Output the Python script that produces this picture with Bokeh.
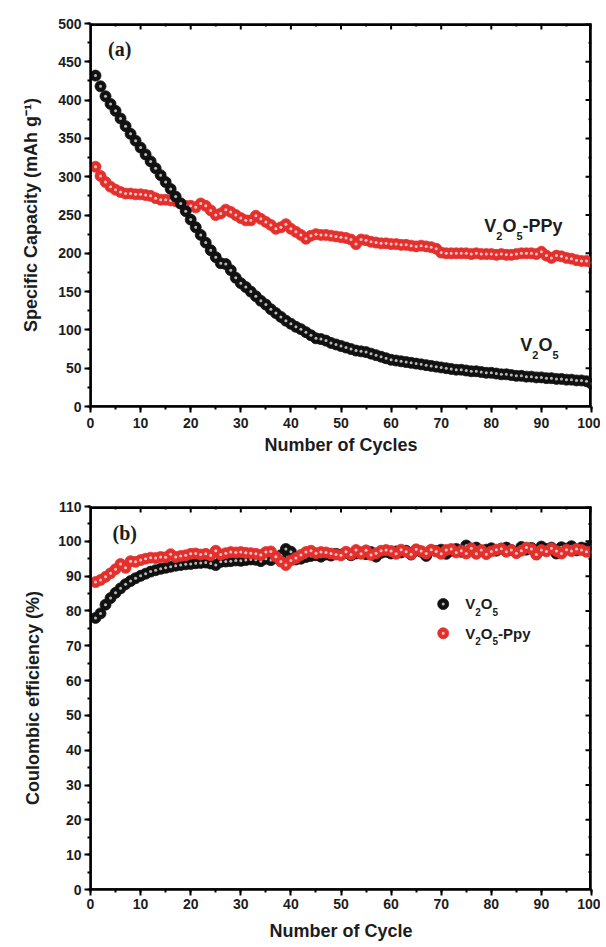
import math
from bokeh.plotting import figure
from bokeh.models import Range1d, SingleIntervalTicker, Label, BoxAnnotation
from bokeh.layouts import column
from bokeh.embed import file_html
from bokeh.resources import INLINE

# ---------------- data ----------------
cycles = list(range(1, 101))

cap_v2o5 = [432, 418, 405, 395, 386, 376, 366, 356, 347, 338,
            329, 320, 311, 302, 293, 284, 274, 265, 255, 244,
            234, 224, 214, 204, 195, 187, 186, 178, 168, 161,
            156, 150, 144, 138, 133, 127, 122, 117, 112, 108,
            104, 101, 97, 93, 89, 88, 86, 83, 81, 79,
            77, 75, 73, 72, 71, 69, 67, 65, 63, 61,
            60, 59, 58, 57, 56, 55, 54, 53, 52, 51,
            50, 49, 48, 48, 47, 46, 46, 45, 44, 44,
            43, 42, 42, 41, 40, 40, 39, 39, 38, 38,
            37, 37, 36, 36, 35, 35, 34, 34, 33, 30]

cap_ppy = [313, 301, 293, 287, 283, 280, 278, 278, 277, 277,
           276, 275, 272, 270, 270, 269, 268, 265, 262, 262,
           260, 265, 262, 256, 250, 252, 257, 254, 250, 246,
           243, 243, 249, 245, 241, 237, 232, 234, 238, 232,
           228, 224, 219, 223, 225, 224, 224, 223, 222, 221,
           220, 218, 212, 218, 217, 215, 214, 213, 213, 212,
           212, 211, 211, 210, 209, 210, 209, 208, 206, 201,
           200, 200, 200, 200, 200, 199, 200, 199, 199, 199,
           198, 199, 198, 198, 199, 200, 200, 200, 199, 202,
           197, 194, 197, 196, 194, 193, 191, 190, 190, 188]

ce_v2o5 = [78.0, 79.3, 81.8, 83.7, 85.2, 86.5, 87.7, 88.6, 89.4, 90.1,
           90.7, 91.3, 91.7, 92.1, 92.4, 92.7, 93.0, 93.2, 93.4, 93.5,
           93.7, 93.8, 93.9, 93.6, 93.2, 94.1, 94.2, 94.3, 94.5, 94.4,
           94.6, 94.8, 94.7, 94.3, 95.0, 94.6, 95.2, 96.0, 97.8, 97.0,
           94.8, 95.0, 95.5, 95.8, 96.0, 95.6, 96.2, 95.9, 96.4, 96.2,
           96.7, 96.0, 96.5, 96.8, 96.3, 96.9, 95.6, 96.7, 97.0, 96.5,
           97.1, 96.8, 97.3, 96.2, 97.5, 97.0, 95.8, 97.4, 97.2, 97.6,
           96.4, 97.3, 97.8, 97.0, 98.8, 97.5, 98.2, 97.2, 97.6, 98.0,
           97.3, 97.9, 98.2, 97.5, 96.8, 98.4, 97.6, 98.1, 96.3, 98.5,
           97.8, 98.2, 96.5, 98.3, 97.9, 98.6, 97.4, 98.2, 98.0, 98.6]

ce_ppy = [88.3, 88.9, 89.8, 90.8, 92.0, 93.5, 92.4, 94.3, 94.1, 94.6,
          95.0, 95.3, 95.2, 95.5, 95.4, 96.3, 95.5, 95.8, 96.0, 96.4,
          96.5, 96.2, 96.4, 96.0, 97.3, 96.2, 96.6, 96.9, 96.8, 96.9,
          96.7, 96.6, 96.4, 96.1, 96.9, 97.1, 95.6, 94.2, 93.2, 94.5,
          95.2, 96.1, 96.9, 97.3, 96.6, 96.9, 96.8, 96.5, 96.2, 96.0,
          97.0, 96.2, 97.5, 96.4, 97.4, 96.1, 96.6, 97.3, 97.5, 97.2,
          96.4, 97.6, 97.0, 96.3, 97.7, 97.2, 96.5, 97.6, 97.1, 96.4,
          97.5, 97.8, 96.8, 97.3, 96.5, 98.0, 96.4, 97.5, 96.3, 97.1,
          97.6, 97.9, 97.0, 97.5, 96.6, 97.3, 98.2, 97.8, 96.2, 97.5,
          97.1, 98.0, 97.2, 96.5, 97.6, 97.2, 97.8, 97.5, 97.0, 96.9]

FONT = "Liberation Sans"
SERIF = "Liberation Serif"
TXT = "#1c1c1c"
BLACK = "#111111"
BLACK_HI = "#b8b8b8"
RED = "#e4302c"
RED_HI = "#ffc4c4"

CHAR_W = {"V": 0.667, "O": 0.778, "2": 0.556, "5": 0.556, "-": 0.333,
          "P": 0.667, "p": 0.611, "y": 0.556}


def text_w(s, size):
    return sum(CHAR_W.get(c, 0.6) for c in s) * size


def rich(p, x, y, parts, base, sub, dy):
    off = 0.0
    for txt, is_sub in parts:
        size = sub if is_sub else base
        p.add_layout(Label(x=x, y=y, x_offset=off, y_offset=(-dy if is_sub else 0),
                           text=txt, text_font=FONT, text_font_style="bold",
                           text_font_size=f"{size}px", text_color=TXT,
                           text_baseline="middle", text_align="left"))
        off += text_w(txt, size)


def style(p, xmax, ymax, xint, yint, fw, fh, xlabel, ylabel,
          xlab_stand, ylab_stand, xtick_stand):
    p.grid.visible = False
    p.outline_line_color = None
    for ax in (p.xaxis[0], p.yaxis[0]):
        ax.axis_line_width = 2.5
        ax.axis_line_color = "black"
        ax.major_tick_line_width = 2
        ax.minor_tick_line_width = 2
        ax.major_tick_out = 6
        ax.major_tick_in = 0
        ax.minor_tick_out = 3
        ax.minor_tick_in = 0
        ax.major_label_text_font = FONT
        ax.major_label_text_font_style = "bold"
        ax.major_label_text_font_size = "14px"
        ax.major_label_text_color = TXT
        ax.axis_label_text_font = FONT
        ax.axis_label_text_font_style = "bold"
        ax.axis_label_text_color = TXT
        ax.axis_label_text_font_size = "18px"
    p.xaxis[0].ticker = SingleIntervalTicker(interval=xint, num_minor_ticks=2)
    p.yaxis[0].ticker = SingleIntervalTicker(interval=yint, num_minor_ticks=2)
    p.xaxis[0].axis_label = xlabel
    p.yaxis[0].axis_label = ylabel
    p.xaxis[0].axis_label_standoff = xlab_stand
    p.yaxis[0].axis_label_standoff = ylab_stand
    p.xaxis[0].major_label_standoff = xtick_stand
    p.yaxis[0].major_label_standoff = 3

    # mirrored frame (top and right)
    p.add_layout(BoxAnnotation(left=0, right=xmax, bottom=0, top=ymax,
                               fill_alpha=0, line_color="black", line_width=2.5,
                               line_alpha=1))
    p.line(x=[0, xmax, xmax], y=[ymax, ymax, 0], line_color="black", line_width=5)

    # inward ticks drawn as dash markers
    px_y = ymax / fh
    px_x = xmax / fw
    tx = [i * xint / 2 for i in range(int(2 * xmax / xint) + 1)]
    tmaj = [t for k, t in enumerate(tx) if k % 2 == 0]
    tmin = [t for k, t in enumerate(tx) if k % 2 == 1]
    p.scatter(tmaj, [ymax - 3 * px_y] * len(tmaj), marker="dash", size=6,
              angle=math.pi / 2, line_color="black", line_width=2)
    p.scatter(tmin, [ymax - 1.5 * px_y] * len(tmin), marker="dash", size=3,
              angle=math.pi / 2, line_color="black", line_width=2)
    ty = [i * yint / 2 for i in range(int(2 * ymax / yint) + 1)]
    rmaj = [t for k, t in enumerate(ty) if k % 2 == 0]
    rmin = [t for k, t in enumerate(ty) if k % 2 == 1]
    p.scatter([xmax - 3 * px_x] * len(rmaj), rmaj, marker="dash", size=6,
              line_color="black", line_width=2)
    p.scatter([xmax - 1.5 * px_x] * len(rmin), rmin, marker="dash", size=3,
              line_color="black", line_width=2)


def balls(p, x, y, fill, hi, size, hsize):
    p.scatter(x, y, size=size, fill_color=fill, line_color=fill, line_width=0.8)
    p.scatter(x, y, size=hsize, fill_color=hi, line_color=None)


# ---------------- panel (a) ----------------
FW1, FH1 = 514, 383
p1 = figure(width=600, height=465, output_backend="svg",
            toolbar_location=None, x_range=Range1d(0, 100), y_range=Range1d(0, 500),
            min_border_left=77, min_border_right=9, min_border_top=23,
            min_border_bottom=59, background_fill_color="white")
style(p1, 100, 500, 10, 50, FW1, FH1, "Number of Cycles",
      "Specific Capacity (mAh g\u207b\u00b9)", 4, 14, 5)

balls(p1, cycles, cap_ppy, RED, RED_HI, 11, 3)
balls(p1, cycles, cap_v2o5, BLACK, BLACK_HI, 11, 3)

p1.add_layout(Label(x=3.5, y=467, text="(a)", text_font=SERIF, text_font_style="bold",
                    text_font_size="20px", text_color=TXT, text_baseline="middle"))
rich(p1, 78.6, 236, [("V", 0), ("2", 1), ("O", 0), ("5", 1), ("-PPy", 0)], 18, 11, 10)
rich(p1, 85.8, 80, [("V", 0), ("2", 1), ("O", 0), ("5", 1)], 18, 11, 10)

# ---------------- panel (b) ----------------
FW2, FH2 = 504, 383
p2 = figure(width=600, height=480, output_backend="svg",
            toolbar_location=None, x_range=Range1d(0, 100), y_range=Range1d(0, 110),
            min_border_left=90, min_border_right=6, min_border_top=41,
            min_border_bottom=56, background_fill_color="white")
style(p2, 100, 110, 10, 10, FW2, FH2, "Number of Cycle",
      "Coulombic efficiency (%)", 9, 12, 3)

balls(p2, cycles, ce_v2o5, BLACK, BLACK_HI, 11, 3)
balls(p2, cycles, ce_ppy, RED, RED_HI, 11, 3)

p2.add_layout(Label(x=4.4, y=102.3, text="(b)", text_font=SERIF, text_font_style="bold",
                    text_font_size="20px", text_color=TXT, text_baseline="middle"))

# legend (drawn manually to allow subscripts)
leg_x = [70.4, 70.4]
leg_y = [82.0, 73.6]
balls(p2, leg_x[:1], leg_y[:1], BLACK, BLACK_HI, 11, 3)
balls(p2, leg_x[1:], leg_y[1:], RED, RED_HI, 11, 3)
rich(p2, 74.8, 82.0, [("V", 0), ("2", 1), ("O", 0), ("5", 1)], 15, 10, 8)
rich(p2, 74.8, 73.6, [("V", 0), ("2", 1), ("O", 0), ("5", 1), ("-Ppy", 0)], 15, 10, 8)

layout = column(p1, p2, spacing=0)
open("out.html", "w").write(file_html(layout, INLINE))
